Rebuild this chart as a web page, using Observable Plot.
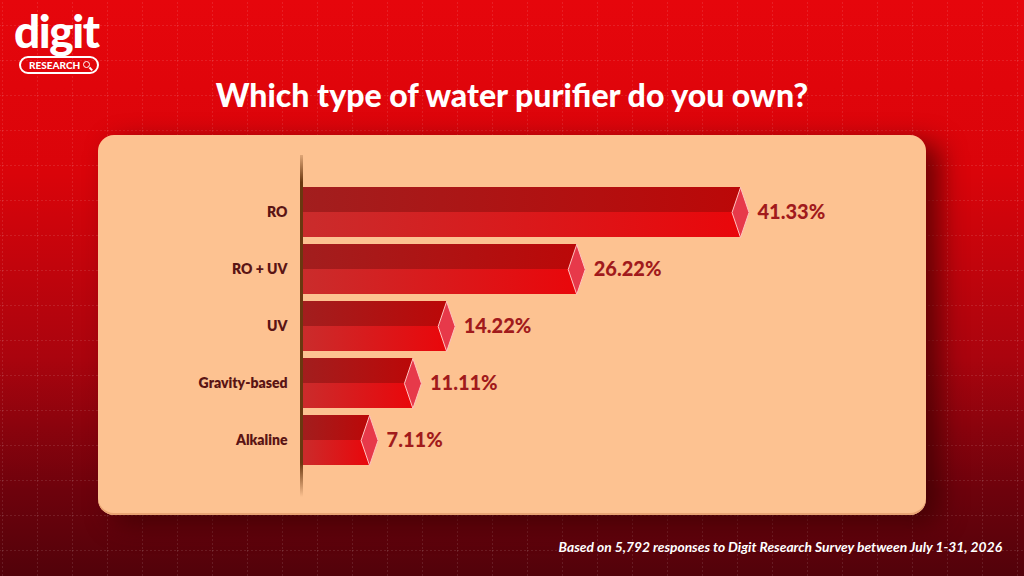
<!DOCTYPE html>
<html>
<head>
<meta charset="utf-8">
<script src="https://cdn.jsdelivr.net/npm/d3@7"></script>
<script src="https://cdn.jsdelivr.net/npm/@observablehq/plot@0.6"></script>
<style>
  html, body { margin: 0; padding: 0; }
  body { width: 1024px; height: 576px; overflow: hidden; position: relative;
    background: linear-gradient(180deg, #e6060c 0%, #da040a 30%, #aa040e 62%, #6e020c 85%, #52020a 100%);
    font-family: Lato, "Open Sans", sans-serif; }
  #grid { position: absolute; left: 0; top: 0; }
  #logo { position: absolute; left: 14px; top: 9px; color: #fff; }
  #logo .word { font: 900 46px/44px Lato, sans-serif; letter-spacing: -1.5px; }
  #logo .pill { margin-top: 2px; margin-left: 5px; display: inline-flex; align-items: center; gap: 3px;
    border: 2px solid #fff; border-radius: 10px; padding: 1px 7px 1px 8px; font: 900 10px/12px Lato, sans-serif; }
  #logo .mag { width: 5px; height: 5px; border: 1.5px solid #fff; border-radius: 50%; position: relative; margin-top: -2px; }
  #logo .mag::after { content: ""; position: absolute; width: 4px; height: 1.5px; background: #fff;
    left: 5px; top: 6px; transform: rotate(45deg); }
  #title { position: absolute; left: 0; width: 1024px; top: 76px; text-align: center; color: #fff;
    font: 900 32px/38px Lato, sans-serif; }
  #panel { position: absolute; left: 98px; top: 135px; width: 828px; height: 380px; background: #fdc291;
    border-radius: 16px; box-shadow: 14px 8px 26px rgba(50,0,0,0.65), inset 0 -2px 0 #e9a474; }
  #chart { position: absolute; left: 0; top: 0; }
  #caption { position: absolute; right: 22px; top: 538px; color: #fff;
    font: italic 700 13.8px/17px Lato, sans-serif; }
</style>
</head>
<body>
<svg id="grid" width="1024" height="576">
  <defs>
    <pattern id="gp" width="35" height="35" patternUnits="userSpaceOnUse" x="2" y="25">
      <path d="M0 0V35M0 0H35" stroke="rgba(255,255,255,0.2)" stroke-width="1" stroke-dasharray="2 2" fill="none"/>
    </pattern>
  </defs>
  <rect width="1024" height="576" fill="url(#gp)"/>
</svg>
<div id="logo"><div class="word">digit</div><div class="pill">RESEARCH<span class="mag"></span></div></div>
<div id="title">Which type of water purifier do you own?</div>
<div id="panel"></div>
<div id="chart"></div>
<div id="caption">Based on 5,792 responses to Digit Research Survey between July 1-31, 2026</div>
<script>
const categories = ["RO", "RO + UV", "UV", "Gravity-based", "Alkaline"];
const shares = [41.33, 26.22, 14.22, 11.11, 7.11];
const data = categories.map((c, i) => ({cat: c, value: shares[i]}));

const diamond = {
  draw(ctx, size) {
    const h = Math.sqrt(size / Math.PI), w = h * 0.34;
    ctx.moveTo(0, -h); ctx.lineTo(w, 0); ctx.lineTo(0, h); ctx.lineTo(-w, 0); ctx.closePath();
  }
};

const chart = Plot.plot({
  width: 1024, height: 576,
  marginLeft: 292, marginRight: 190, marginTop: 155, marginBottom: 79,
  style: {background: "transparent", overflow: "visible", color: "#5a1414", fontFamily: "Lato, sans-serif"},
  x: {domain: [0, 50], axis: null},
  y: {domain: categories, paddingInner: 0.123, paddingOuter: 0.56, label: null},
  marks: [
    Plot.barX(data, {x: "value", y: "cat", insetLeft: 9, insetBottom: 25, fill: "url(#gTop)"}),
    Plot.barX(data, {x: "value", y: "cat", insetLeft: 9, insetTop: 25, fill: "url(#gBot)"}),
    Plot.dot(data, {x: "value", y: "cat", r: 25, symbol: diamond, fill: "#e7394a", stroke: "#ffc4c0", strokeWidth: 1}),
    Plot.text(data, {x: "value", y: "cat", text: d => d3.format(".2f")(d.value) + "%", dx: 17, textAnchor: "start",
      fontSize: 20, fontWeight: 900, fill: "#a11a1c"}),
    Plot.axisY({tickSize: 0, tickPadding: 5, fontSize: 14, fontWeight: 800, fill: "#5a1414", label: null}),
    Plot.ruleX([0], {dx: 9, stroke: "url(#gAxis)", strokeWidth: 3})
  ]
});

const defs = d3.select(chart).insert("defs", ":first-child");
function lin(id, stops, attrs = {}) {
  const g = defs.append("linearGradient").attr("id", id);
  Object.entries(attrs).forEach(([k, v]) => g.attr(k, v));
  stops.forEach(([o, c, a]) => g.append("stop").attr("offset", o).attr("stop-color", c).attr("stop-opacity", a ?? 1));
}
lin("gTop", [[0, "#a21e1e"], [1, "#bb0808"]]);
lin("gBot", [[0, "#ca2c2c"], [1, "#e9070b"]]);
lin("gAxis", [[0, "#6a3810", 0.2], [0.08, "#6a3810"], [0.9, "#6a3810"], [1, "#6a3810", 0]],
  {gradientUnits: "userSpaceOnUse", x1: 0, x2: 0, y1: 155, y2: 497});

document.getElementById("chart").appendChild(chart);
</script>
</body>
</html>
